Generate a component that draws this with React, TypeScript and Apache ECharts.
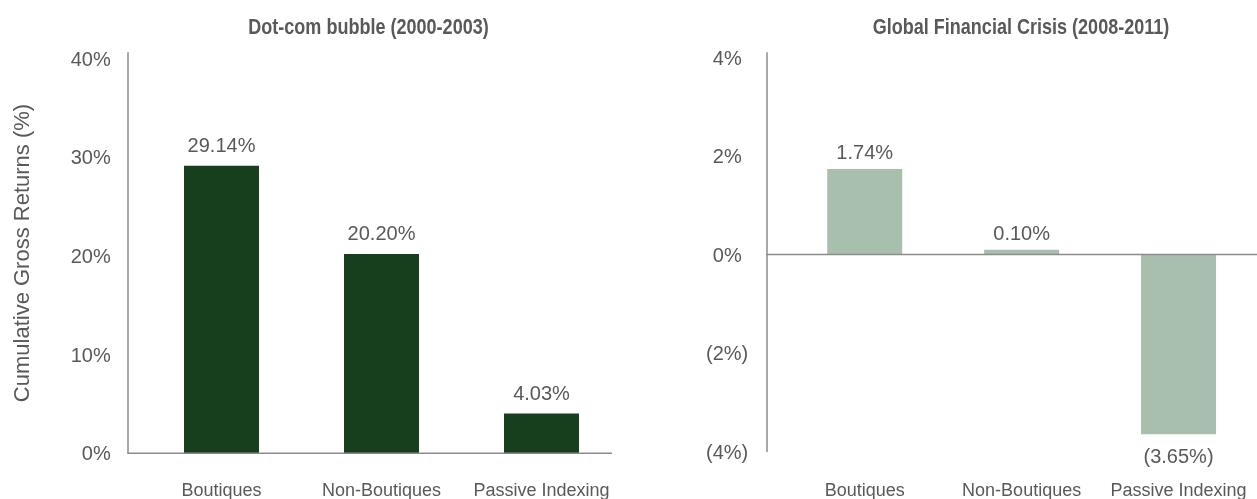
import React, { useEffect, useRef } from "react";
import * as echarts from "echarts";

// ---- data ----
const categories = ["Boutiques", "Non-Boutiques", "Passive Indexing"];
const dotcomReturns = [29.14, 20.2, 4.03];
const gfcReturns = [1.74, 0.1, -3.65];
const chartTitles = ["Dot-com bubble (2000-2003)", "Global Financial Crisis (2008-2011)"];
const yAxisTitle = "Cumulative Gross Returns (%)";
const dotcomAxis = { min: 0, max: 40, interval: 10 };
const gfcAxis = { min: -4, max: 4, interval: 2 };

// ---- styles ----
const SANS = "'Liberation Sans', Arial, sans-serif";
const TEXT = "#595959";
const AXIS = "#8c8c8c";
const DARK = "#173f1d";
const LIGHT = "#a8bfad";

const L = { left: 141.5, top: 52.7, width: 480, height: 400.6, offset: 14 };
const R = { left: 786.25, top: 52.7, width: 481.5, height: 398.8, offset: 20 };

const fmtPct = (v: number) =>
  v < 0 ? `(${Math.abs(v).toFixed(2)}%)` : `${v.toFixed(2)}%`;

export default function App() {
  const ref = useRef<HTMLDivElement>(null);
  useEffect(() => {
    const chart = echarts.init(ref.current!, null, { renderer: "svg" });
    const labelBase = { fontFamily: SANS, fontSize: 20, color: TEXT };
    const catLabel = { fontFamily: SANS, fontSize: 18, color: TEXT, interval: 0 };
    const option: any = {
      animation: false,
      grid: [
        { left: L.left, top: L.top, width: L.width, height: L.height },
        { left: R.left, top: R.top, width: R.width, height: R.height },
      ],
      xAxis: [
        {
          type: "category",
          gridIndex: 0,
          data: categories,
          axisLine: { show: false },
          axisTick: { show: false },
          axisLabel: { ...catLabel, margin: 27.3 },
        },
        {
          type: "category",
          gridIndex: 1,
          data: categories,
          axisLine: { show: false, onZero: false },
          axisTick: { show: false },
          axisLabel: { ...catLabel, margin: 29.1 },
        },
      ],
      yAxis: [
        {
          type: "value",
          gridIndex: 0,
          min: dotcomAxis.min,
          max: dotcomAxis.max + 0.6,
          interval: dotcomAxis.interval,
          offset: L.offset,
          splitLine: { show: false },
          axisTick: { show: false },
          axisLine: { show: true, onZero: false, lineStyle: { color: AXIS, width: 1.5 } },
          axisLabel: {
            ...labelBase,
            margin: 16.8,
            formatter: (v: number) =>
              Math.abs(v % dotcomAxis.interval) < 1e-9 ? `${v}%` : "",
          },
          name: yAxisTitle,
          nameLocation: "middle",
          nameGap: 95,
          nameTextStyle: { fontFamily: SANS, fontSize: 22, color: TEXT },
        },
        {
          type: "value",
          gridIndex: 1,
          min: gfcAxis.min,
          max: gfcAxis.max + 0.1,
          interval: gfcAxis.interval,
          offset: R.offset,
          splitLine: { show: false },
          axisTick: { show: false },
          axisLine: { show: true, onZero: false, lineStyle: { color: AXIS, width: 1.5 } },
          axisLabel: {
            ...labelBase,
            margin: 18,
            formatter: (v: number) => {
              if (Math.abs(v % gfcAxis.interval) > 1e-9) return "";
              return v < 0 ? `{n|(${Math.abs(v)}%)}` : `{p|${v}%}`;
            },
            rich: {
              p: { ...labelBase, padding: [0, 6.5, 0, 0] },
              n: { ...labelBase },
            },
          },
        },
      ],
      series: [
        {
          type: "bar",
          xAxisIndex: 0,
          yAxisIndex: 0,
          data: dotcomReturns,
          barWidth: 75,
          itemStyle: { color: DARK },
          label: {
            show: true,
            position: "top",
            distance: 11,
            ...labelBase,
            formatter: (p: any) => fmtPct(p.value),
          },
        },
        {
          type: "bar",
          xAxisIndex: 1,
          yAxisIndex: 1,
          data: gfcReturns.map((v) => ({
            value: v,
            label: { position: v < 0 ? "bottom" : "top", distance: v < 0 ? 12 : 7 },
          })),
          barWidth: 75,
          itemStyle: { color: LIGHT },
          label: {
            show: true,
            ...labelBase,
            formatter: (p: any) => fmtPct(p.value),
          },
        },
      ],
    };
    chart.setOption(option);

    const yL = chart.convertToPixel({ yAxisIndex: 0 } as any, 0) as unknown as number;
    const yR = chart.convertToPixel({ yAxisIndex: 1 } as any, 0) as unknown as number;
    const titleStyle = {
      fill: TEXT,
      fontSize: 22,
      fontWeight: "bold",
      fontFamily: SANS,
      align: "center",
      verticalAlign: "middle",
      textAlign: "center",
      textVerticalAlign: "middle",
    };
    chart.setOption({
      graphic: [
        { type: "text", id: "t0", x: 368.5, y: 26, scaleX: 0.82, style: { ...titleStyle, text: chartTitles[0] } },
        { type: "text", id: "t1", x: 1021, y: 26, scaleX: 0.82, style: { ...titleStyle, text: chartTitles[1] } },
        {
          type: "line",
          id: "b0",
          z: 10,
          shape: { x1: L.left - L.offset, y1: yL, x2: L.left + L.width - 9.5, y2: yL },
          style: { stroke: AXIS, lineWidth: 1.5 },
        },
        {
          type: "line",
          id: "b1",
          z: 10,
          shape: { x1: R.left - R.offset, y1: yR, x2: 1257, y2: yR },
          style: { stroke: AXIS, lineWidth: 1.5 },
        },
      ],
    });
    return () => chart.dispose();
  }, []);
  return (
    <div
      ref={ref}
      style={{ position: "fixed", left: 0, top: 0, width: 1257, height: 499 }}
    />
  );
}
